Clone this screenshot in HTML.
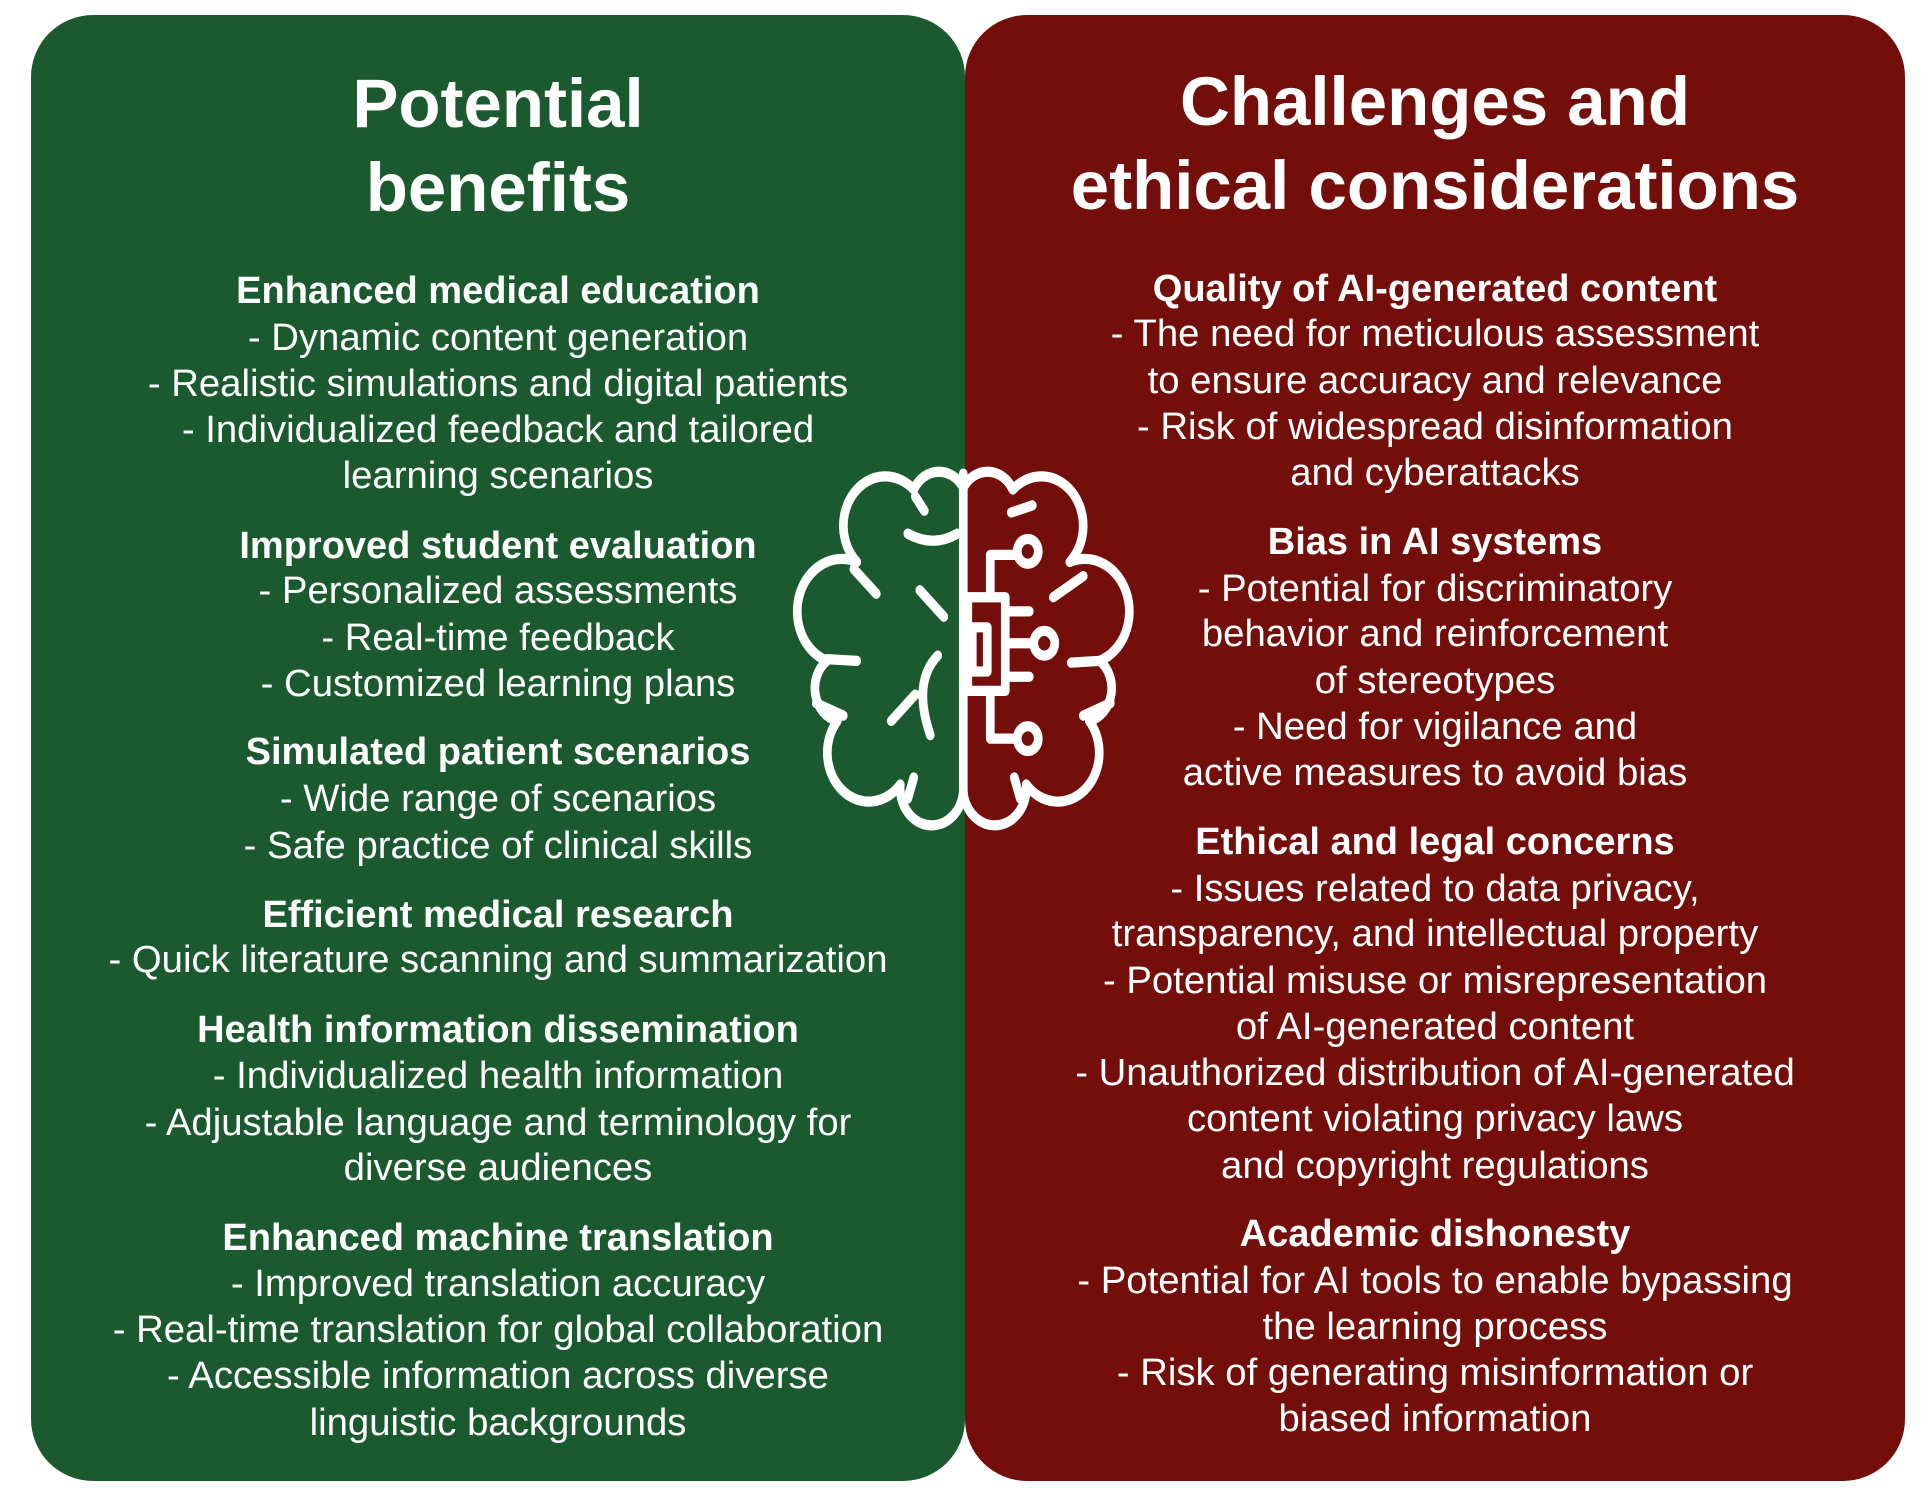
<!DOCTYPE html>
<html><head><meta charset="utf-8"><style>
html,body{margin:0;padding:0;background:#fff;}
body{width:1924px;height:1506px;position:relative;overflow:hidden;font-family:"Liberation Sans",Arial,sans-serif;color:#fff;}
.p{position:absolute;top:15px;height:1466px;border-radius:62px;}
.g{left:31px;width:934px;background:#1a5a2e;}
.r{left:965px;width:940px;background:#730e0a;}
.t{position:absolute;text-align:center;white-space:nowrap;font-size:38.3px;line-height:46px;height:46px;}
.L{left:31px;width:934px;}
.R{left:965px;width:940px;}
.b{font-weight:bold;font-size:38px;}
.h{font-weight:bold;font-size:69px;line-height:80px;height:80px;}
</style></head><body>
<div class="p g"></div><div class="p r"></div>

<div class="t L h" style="top:64px">Potential</div>
<div class="t L h" style="top:148px">benefits</div>
<div class="t L b" style="top:268px">Enhanced medical education</div>
<div class="t L" style="top:315px">- Dynamic content generation</div>
<div class="t L" style="top:361px">- Realistic simulations and digital patients</div>
<div class="t L" style="top:407px">- Individualized feedback and tailored</div>
<div class="t L" style="top:453px">learning scenarios</div>
<div class="t L b" style="top:523px">Improved student evaluation</div>
<div class="t L" style="top:568px">- Personalized assessments</div>
<div class="t L" style="top:615px">- Real-time feedback</div>
<div class="t L" style="top:661px">- Customized learning plans</div>
<div class="t L b" style="top:729px">Simulated patient scenarios</div>
<div class="t L" style="top:776px">- Wide range of scenarios</div>
<div class="t L" style="top:823px">- Safe practice of clinical skills</div>
<div class="t L b" style="top:892px">Efficient medical research</div>
<div class="t L" style="top:937px">- Quick literature scanning and summarization</div>
<div class="t L b" style="top:1007px">Health information dissemination</div>
<div class="t L" style="top:1053px">- Individualized health information</div>
<div class="t L" style="top:1100px">- Adjustable language and terminology for</div>
<div class="t L" style="top:1145px">diverse audiences</div>
<div class="t L b" style="top:1215px">Enhanced machine translation</div>
<div class="t L" style="top:1261px">- Improved translation accuracy</div>
<div class="t L" style="top:1307px">- Real-time translation for global collaboration</div>
<div class="t L" style="top:1353px">- Accessible information across diverse</div>
<div class="t L" style="top:1400px">linguistic backgrounds</div>

<div class="t R h" style="top:62px">Challenges and</div>
<div class="t R h" style="top:146px">ethical considerations</div>
<div class="t R b" style="top:266px">Quality of AI-generated content</div>
<div class="t R" style="top:311px">- The need for meticulous assessment</div>
<div class="t R" style="top:358px">to ensure accuracy and relevance</div>
<div class="t R" style="top:404px">- Risk of widespread disinformation</div>
<div class="t R" style="top:450px">and cyberattacks</div>
<div class="t R b" style="top:519px">Bias in AI systems</div>
<div class="t R" style="top:566px">- Potential for discriminatory</div>
<div class="t R" style="top:611px">behavior and reinforcement</div>
<div class="t R" style="top:658px">of stereotypes</div>
<div class="t R" style="top:704px">- Need for vigilance and</div>
<div class="t R" style="top:750px">active measures to avoid bias</div>
<div class="t R b" style="top:819px">Ethical and legal concerns</div>
<div class="t R" style="top:866px">- Issues related to data privacy,</div>
<div class="t R" style="top:911px">transparency, and intellectual property</div>
<div class="t R" style="top:958px">- Potential misuse or misrepresentation</div>
<div class="t R" style="top:1004px">of AI-generated content</div>
<div class="t R" style="top:1050px">- Unauthorized distribution of AI-generated</div>
<div class="t R" style="top:1096px">content violating privacy laws</div>
<div class="t R" style="top:1143px">and copyright regulations</div>
<div class="t R b" style="top:1211px">Academic dishonesty</div>
<div class="t R" style="top:1258px">- Potential for AI tools to enable bypassing</div>
<div class="t R" style="top:1304px">the learning process</div>
<div class="t R" style="top:1350px">- Risk of generating misinformation or</div>
<div class="t R" style="top:1396px">biased information</div>

<svg style="position:absolute;left:0;top:0" width="1924" height="1506">
<g transform="translate(963,645) scale(0.9,1.06) translate(-963,-645)">
<g transform="translate(780,440) scale(0.3333)" fill="none" stroke="#fff" stroke-width="29" stroke-linecap="round" stroke-linejoin="round">
<path d="M550,130 L550,1040"/>
<path d="M550,170 A95,95 0 0 0 385,175 A115,115 0 0 0 195,380 A120,120 0 0 0 95,660 A95,95 0 0 0 130,830 A115,115 0 0 0 340,1010 A100,100 0 0 0 550,1030"/>
<path d="M550,170 A95,95 0 0 1 715,175 A115,115 0 0 1 905,380 A120,120 0 0 1 1005,660 A95,95 0 0 1 970,830 A115,115 0 0 1 760,1010 A100,100 0 0 1 550,1030"/>
<path d="M365,300 Q450,340 530,300"/>
<path d="M390,195 L420,235"/>
<path d="M185,400 L260,470"/>
<path d="M405,460 L485,535"/>
<path d="M465,645 Q380,720 440,870"/>
<path d="M310,830 L390,755"/>
<path d="M60,780 L150,815"/>
<path d="M95,655 L195,660"/>
<path d="M385,990 L365,1050"/>
<path d="M710,240 L780,220"/>
<path d="M850,480 L950,420"/>
<path d="M1005,660 L910,665"/>
<path d="M1040,780 L950,815"/>
<path d="M720,990 L740,1050"/>
<rect x="565" y="480" width="125" height="265"/>
<rect x="580" y="565" width="50" height="125"/>
<path d="M690,520 L770,520 M690,705 L770,705 M690,610 L785,610"/>
<circle cx="820" cy="610" r="35"/>
<path d="M640,480 L640,360 L720,360"/>
<circle cx="765" cy="350" r="35"/>
<path d="M640,745 L640,880 L720,880"/>
<circle cx="765" cy="880" r="35"/>
</g></g>
</svg>
</body></html>
